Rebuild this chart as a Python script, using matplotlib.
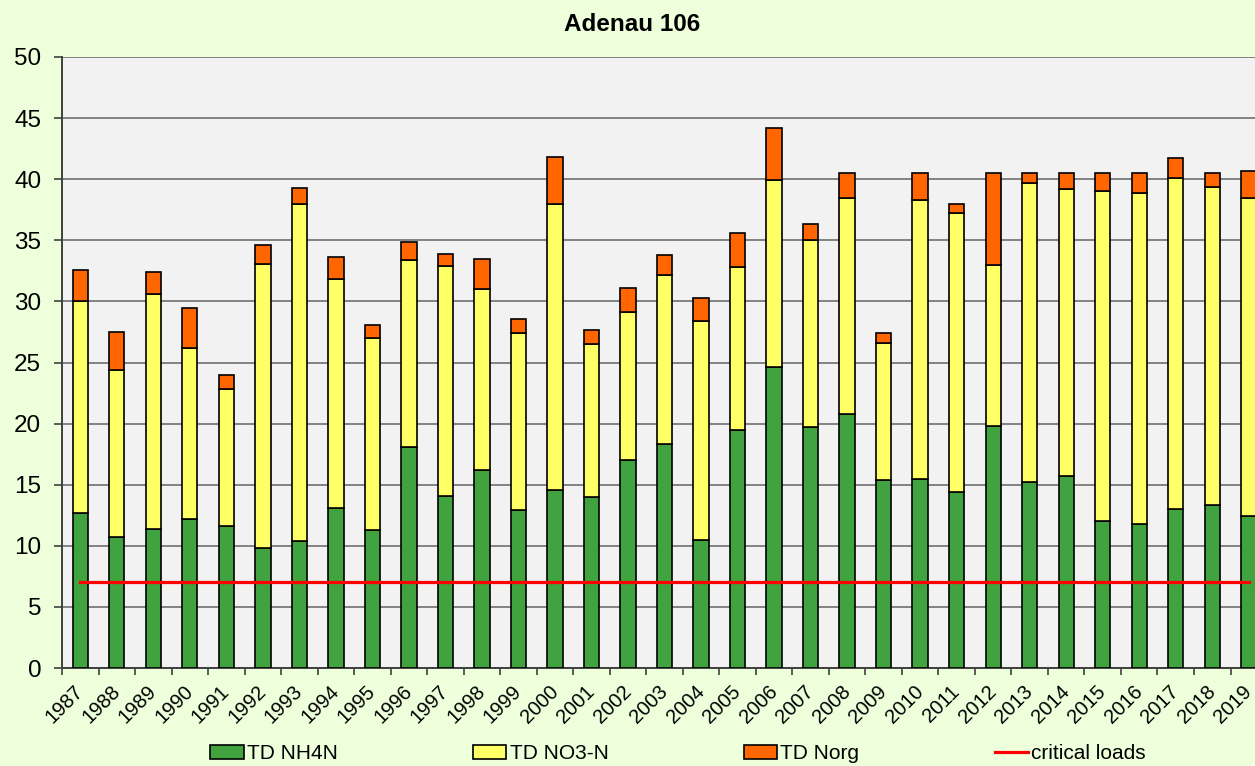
import numpy as np
from matplotlib import pyplot as plt

years = [str(y) for y in range(1987, 2020)]

# deposition components (stacked)
nh4n = [12.7, 10.7, 11.4, 12.2, 11.6, 9.8, 10.4, 13.1, 11.3, 18.1, 14.1,
        16.2, 12.9, 14.6, 14.0, 17.0, 18.3, 10.5, 19.5, 24.6, 19.7, 20.8,
        15.4, 15.5, 14.4, 19.8, 15.2, 15.7, 12.0, 11.8, 13.0, 13.3, 12.4]
no3n = [17.3, 13.7, 19.2, 14.0, 11.2, 23.3, 27.6, 18.7, 15.7, 15.3, 18.8,
        14.8, 14.5, 23.4, 12.5, 12.1, 13.9, 17.9, 13.3, 15.3, 15.3, 17.7,
        11.2, 22.8, 22.8, 13.2, 24.5, 23.5, 27.0, 27.1, 27.1, 26.1, 26.1]
norg = [2.6, 3.1, 1.8, 3.3, 1.2, 1.5, 1.3, 1.8, 1.1, 1.5, 1.0,
        2.5, 1.2, 3.8, 1.2, 2.0, 1.6, 1.9, 2.8, 4.3, 1.3, 2.0,
        0.8, 2.2, 0.8, 7.5, 0.8, 1.3, 1.5, 1.6, 1.6, 1.1, 2.2]
critical_load = 7

plt.rcParams['font.family'] = ['Liberation Sans', 'DejaVu Sans']

fig = plt.figure(figsize=(12.55, 7.66), dpi=100)
fig.patch.set_facecolor('#EEFFDC')
ax = fig.add_axes([0.0494, 0.1279, 0.9602, 0.7977])
ax.set_facecolor('#F2F2F2')

x = np.arange(len(years))
nh4n = np.array(nh4n)
no3n = np.array(no3n)
norg = np.array(norg)
w = 0.42
ax.bar(x, nh4n, w, color='#41A33F', edgecolor='black', linewidth=1.2,
       label='TD NH4N', zorder=3)
ax.bar(x, no3n, w, bottom=nh4n, color='#FFFF66', edgecolor='black',
       linewidth=1.2, label='TD NO3-N', zorder=3)
ax.bar(x, norg, w, bottom=nh4n + no3n, color='#FF6600', edgecolor='black',
       linewidth=1.2, label='TD Norg', zorder=3)
ax.plot(x, [critical_load] * len(x), color='#FF0000', linewidth=2.3,
        label='critical loads', zorder=4)

ax.set_xlim(-0.5, len(years) - 0.5)
ax.set_ylim(0, 50)
ax.set_yticks(range(0, 51, 5))
ax.yaxis.grid(True, color='#707070', linewidth=1.2, zorder=0)
ax.tick_params(axis='y', labelsize=17.5, length=6, width=1.2, pad=9,
               color='#404040')

ax.set_xticks(np.arange(len(years) + 1) - 0.5)
ax.set_xticklabels([])
ax.set_xticks(x - 0.18, minor=True)
ax.set_xticklabels(years, minor=True, rotation=45, ha='right',
                   rotation_mode='anchor', fontsize=14.5)
ax.tick_params(axis='x', which='major', length=5, width=1.2, color='#404040')
ax.tick_params(axis='x', which='minor', length=0, pad=10)

for side in ['top', 'right']:
    ax.spines[side].set_visible(False)
ax.spines['left'].set_color('#404040')
ax.spines['left'].set_linewidth(1.4)
ax.spines['bottom'].set_color('#404040')
ax.spines['bottom'].set_linewidth(1.4)

fig.text(0.504, 0.968, 'Adenau 106', ha='center', va='center',
         fontsize=17.5, fontweight='bold')

handles, labels = ax.get_legend_handles_labels()
order = [1, 2, 3, 0]
fig.legend([handles[i] for i in order], [labels[i] for i in order],
           loc='center left', bbox_to_anchor=(0.1593, 0.0157), ncol=4,
           frameon=False, fontsize=15, borderpad=0, handlelength=1.6,
           handleheight=0.63, handletextpad=0.15, columnspacing=6.5)

fig.savefig('out.png', dpi=100, facecolor=fig.get_facecolor())
